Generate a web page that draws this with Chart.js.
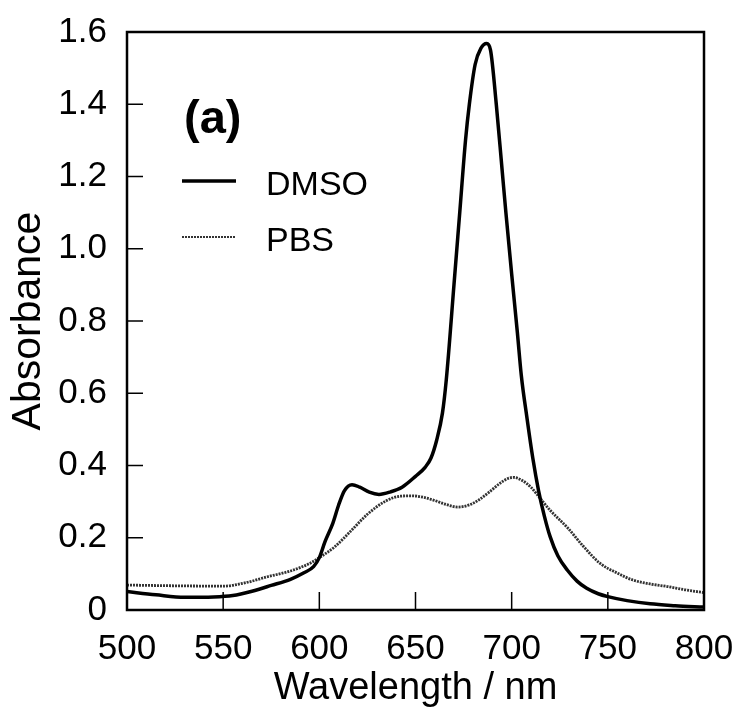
<!DOCTYPE html>
<html><head><meta charset="utf-8">
<script src="https://cdn.jsdelivr.net/npm/chart.js@4"></script>
<style>html,body{margin:0;padding:0;background:#fff}#wrap{width:736px;height:711px}</style>
</head><body><div id="wrap"><canvas id="c" width="736" height="711"></canvas></div>
<script>
const dmsoWavelength = [500,515,530,545,555,565,575,585,592,597,600,603,607,610,613,617,621,626,631,637,643,650,655,658,661,664,666,670,673,676,678,681,684,687,689,692,695,697,700,703,705,708,711,714,717,720,724,729,734,739,745,750,760,772,785,800];
const dmsoAbs = [0.051,0.042,0.035,0.036,0.040,0.052,0.068,0.085,0.103,0.120,0.145,0.190,0.240,0.290,0.330,0.347,0.340,0.326,0.320,0.327,0.340,0.370,0.395,0.420,0.470,0.545,0.637,0.900,1.100,1.300,1.400,1.510,1.555,1.568,1.550,1.400,1.220,1.100,0.930,0.766,0.650,0.530,0.420,0.330,0.260,0.203,0.150,0.110,0.080,0.060,0.045,0.037,0.026,0.017,0.012,0.008];
const pbsWavelength = [500,525,550,562,573,585,595,600,608,617,625,635,642,648,654,660,666,672,678,683,688,694,698,701,705,710,715,720,729,737,746,755,763,772,781,790,800];
const pbsAbs = [0.069,0.067,0.066,0.076,0.092,0.108,0.129,0.145,0.175,0.222,0.265,0.303,0.315,0.316,0.312,0.303,0.292,0.285,0.291,0.305,0.325,0.351,0.364,0.367,0.360,0.340,0.308,0.276,0.228,0.178,0.129,0.102,0.083,0.072,0.065,0.056,0.048];
const seriesNames = ['DMSO','PBS'];
const xTickValues = [500,550,600,650,700,750,800];
const yTickValues = [0,0.2,0.4,0.6,0.8,1.0,1.2,1.4,1.6];
const yTickLabels = ['0','0.2','0.4','0.6','0.8','1.0','1.2','1.4','1.6'];
const xTitle = 'Wavelength / nm';
const yTitle = 'Absorbance';
const panelLabel = '(a)';

const FONT = '"Liberation Sans", Arial, Helvetica, sans-serif';
const toPts = (xs, ys) => xs.map((x, i) => ({x, y: ys[i]}));

const styles = [
  {borderColor:'#000', borderWidth:3.5, borderDash:[]},
  {borderColor:'#333', borderWidth:2.8, borderDash:[2,1]}
];

const framePlugin = {
  id: 'frame',
  afterDraw(chart) {
    const ctx = chart.ctx, a = chart.chartArea;
    const xs = chart.scales.x, ys = chart.scales.y;
    ctx.save();
    ctx.strokeStyle = '#000';
    ctx.lineWidth = 2.5;
    ctx.setLineDash([]);
    ctx.strokeRect(a.left, a.top, a.right - a.left, a.bottom - a.top);
    ctx.lineWidth = 1.5;
    ctx.beginPath();
    xTickValues.forEach(v => {
      const px = xs.getPixelForValue(v);
      if (v > xs.min && v < xs.max) { ctx.moveTo(px, a.bottom); ctx.lineTo(px, a.bottom - 18); }
    });
    yTickValues.forEach(v => {
      const py = ys.getPixelForValue(v);
      if (v > ys.min && v < ys.max) { ctx.moveTo(a.left, py); ctx.lineTo(a.left + 16, py); }
    });
    ctx.stroke();
    // panel label
    ctx.fillStyle = '#000';
    ctx.font = 'bold 47px ' + FONT;
    ctx.textBaseline = 'middle';
    ctx.textAlign = 'left';
    ctx.fillText(panelLabel, 184, 120);
    // legend
    const rows = [181, 237];
    ctx.font = '34px ' + FONT;
    seriesNames.forEach((name, i) => {
      const s = styles[i];
      ctx.strokeStyle = s.borderColor;
      ctx.lineWidth = i === 0 ? s.borderWidth : 2;
      ctx.setLineDash(s.borderDash);
      ctx.beginPath();
      ctx.moveTo(182, rows[i]); ctx.lineTo(236, rows[i]);
      ctx.stroke();
      ctx.setLineDash([]);
      ctx.fillText(name, 266, rows[i] + 5);
    });
    ctx.restore();
  }
};

new Chart(document.getElementById('c'), {
  type: 'line',
  data: {
    datasets: [
      Object.assign({label: seriesNames[0], data: toPts(dmsoWavelength, dmsoAbs), pointRadius:0, cubicInterpolationMode:'monotone', fill:false}, styles[0]),
      Object.assign({label: seriesNames[1], data: toPts(pbsWavelength, pbsAbs), pointRadius:0, cubicInterpolationMode:'monotone', fill:false}, styles[1])
    ]
  },
  options: {
    responsive: false,
    animation: false,
    devicePixelRatio: 1,
    layout: {padding: {top: 32, right: 32, left: 0, bottom: 0}},
    plugins: {legend: {display: false}, tooltip: {enabled: false}},
    scales: {
      x: {
        type: 'linear', min: 500, max: 800,
        afterFit: s => { s.height = 101; s.paddingLeft = 0; s.paddingRight = 0; },
        afterBuildTicks: s => { s.ticks = xTickValues.map(v => ({value: v})); },
        grid: {display: false, drawTicks: false},
        border: {display: false},
        ticks: {color:'#000', font:{family: FONT, size: 35}, padding: 18, maxRotation: 0},
        title: {display: true, text: xTitle, color:'#000', font:{family: FONT, size: 38}, padding:{top:0, bottom:0}}
      },
      y: {
        type: 'linear', min: 0, max: 1.6,
        afterFit: s => { s.width = 127; s.paddingTop = 0; s.paddingBottom = 0; },
        afterBuildTicks: s => { s.ticks = yTickValues.map(v => ({value: v})); },
        grid: {display: false, drawTicks: false},
        border: {display: false},
        ticks: {color:'#000', font:{family: FONT, size: 35}, padding: 20,
          callback: (v) => { const i = yTickValues.findIndex(t => Math.abs(t - v) < 1e-9); return i >= 0 ? yTickLabels[i] : ''; }},
        title: {display: true, text: yTitle, color:'#000', font:{family: FONT, size: 41}, padding:{top:4, bottom:4}}
      }
    }
  },
  plugins: [framePlugin]
});
</script>
</body></html>
